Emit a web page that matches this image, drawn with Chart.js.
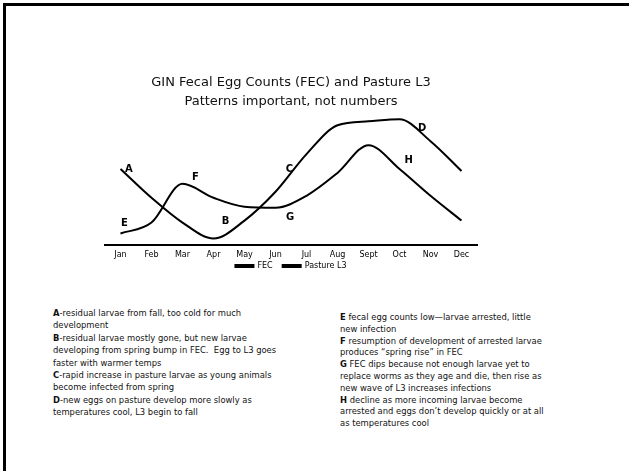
<!DOCTYPE html>
<html>
<head>
<meta charset="utf-8">
<script src="https://cdn.jsdelivr.net/npm/chart.js@4.4.1/dist/chart.umd.min.js"></script>
<style>
  html, body { margin: 0; padding: 0; background: #fff; }
  body { width: 629px; height: 471px; position: relative; overflow: hidden; font-family: "DejaVu Sans", sans-serif; }
  #frameTop { position: absolute; left: 3px; top: 3px; width: 626px; height: 3px; background: #000; }
  #frameLeft { position: absolute; left: 3px; top: 3px; width: 3px; height: 468px; background: #000; }
  #wrap { position: absolute; left: 0; top: 0; width: 629px; height: 299px; }
  .notes { position: absolute; font-size: 8.4px; line-height: 12.4px; color: #111; white-space: nowrap; z-index: 2; }
  .notes b { font-weight: bold; }
  #left { left: 53px; top: 307px; }
  #right { left: 340px; top: 312px; line-height: 11.8px; }
</style>
</head>
<body>
<div id="frameTop"></div>
<div id="frameLeft"></div>
<div id="wrap"><canvas id="c"></canvas></div>
<div class="notes" id="left">
<b>A</b>-residual larvae from fall, too cold for much<br>
development<br>
<b>B</b>-residual larvae mostly gone, but new larvae<br>
developing from spring bump in FEC.&nbsp; Egg to L3 goes<br>
faster with warmer temps<br>
<b>C</b>-rapid increase in pasture larvae as young animals<br>
become infected from spring<br>
<b>D</b>-new eggs on pasture develop more slowly as<br>
temperatures cool, L3 begin to fall
</div>
<div class="notes" id="right">
<b>E</b> fecal egg counts low—larvae arrested, little<br>
new infection<br>
<b>F</b> resumption of development of arrested larvae<br>
produces “spring rise” in FEC<br>
<b>G</b> FEC dips because not enough larvae yet to<br>
replace worms as they age and die, then rise as<br>
new wave of L3 increases infections<br>
<b>H</b> decline as more incoming larvae become<br>
arrested and eggs don’t develop quickly or at all<br>
as temperatures cool
</div>
<script>
const months = ["Jan","Feb","Mar","Apr","May","Jun","Jul","Aug","Sept","Oct","Nov","Dec"];
const fecValues = [12, 23, 62, 48, 39, 38, 50, 73, 101, 77, 50, 25];
const pastureL3Values = [77, 48, 23, 7, 25, 54, 92, 121, 125, 127, 105, 75];
const titleLines = ["GIN Fecal Egg Counts (FEC) and Pasture L3", "Patterns important, not numbers"];
const letterText = ["A","B","C","D","E","F","G","H"];
const letterMonthPos = [0.27, 3.39, 5.45, 9.73, 0.13, 2.42, 5.47, 9.3];
const letterValue = [77, 24, 77, 118, 22, 69, 28, 86];

const letterPlugin = {
  id: 'letters',
  afterDatasetsDraw(chart) {
    const ctx = chart.ctx, xs = chart.scales.x, ys = chart.scales.y;
    ctx.save();
    ctx.font = 'bold 10px "DejaVu Sans", sans-serif';
    ctx.fillStyle = '#000';
    ctx.textAlign = 'center';
    ctx.textBaseline = 'middle';
    letterText.forEach((t, i) => {
      ctx.fillText(t, xs.getPixelForValue(letterMonthPos[i]), ys.getPixelForValue(letterValue[i]));
    });
    ctx.restore();
  }
};

const legendLift = {
  id: 'legendLift',
  afterLayout(chart) {
    if (chart.legend) { chart.legend.top -= 13; chart.legend.bottom -= 13; }
  }
};

new Chart(document.getElementById('c'), {
  type: 'line',
  data: {
    labels: months,
    datasets: [
      { label: 'FEC', data: fecValues, borderColor: '#000', backgroundColor: '#000', borderWidth: 2, pointRadius: 0, cubicInterpolationMode: 'monotone', fill: false },
      { label: 'Pasture L3', data: pastureL3Values, borderColor: '#000', backgroundColor: '#000', borderWidth: 2, pointRadius: 0, cubicInterpolationMode: 'monotone', fill: false }
    ]
  },
  options: {
    responsive: true,
    maintainAspectRatio: false,
    animation: false,
    events: [],
    layout: { padding: { left: 105, right: 152, top: 74, bottom: 6 } },
    plugins: {
      title: {
        display: true,
        text: titleLines,
        color: '#111',
        font: { family: '"DejaVu Sans", sans-serif', size: 13, weight: 'normal', lineHeight: 1.4 },
        padding: { top: 0, bottom: 0 }
      },
      legend: {
        display: true,
        position: 'bottom',
        labels: {
          boxWidth: 18, boxHeight: 2, padding: 10, color: '#000',
          font: { family: '"DejaVu Sans", sans-serif', size: 8 }
        }
      },
      tooltip: { enabled: false }
    },
    scales: {
      x: {
        offset: true,
        grid: { display: false, drawTicks: false },
        border: { display: true, color: '#000', width: 2 },
        ticks: { color: '#000', padding: 5, font: { family: '"DejaVu Sans", sans-serif', size: 8 }, maxRotation: 0, autoSkip: false }
      },
      y: {
        display: false,
        min: 0,
        max: 136
      }
    }
  },
  plugins: [letterPlugin, legendLift]
});
</script>
</body>
</html>
